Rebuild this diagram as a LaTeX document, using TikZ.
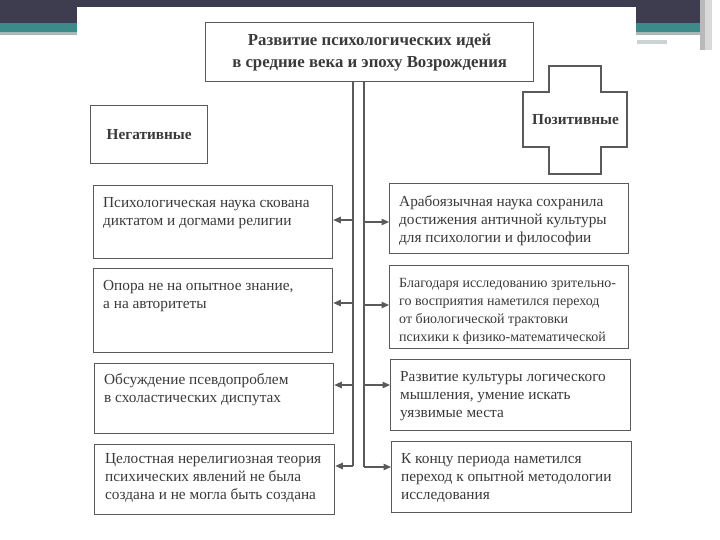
\documentclass[tikz,border=0pt]{standalone}
\usepackage{fontspec}
\setmainfont{Liberation Serif}
\usetikzlibrary{arrows.meta}
\definecolor{bandDark}{HTML}{3E3D50}
\definecolor{bandTeal}{HTML}{3D8A8B}
\definecolor{bandGray}{HTML}{A9B7B7}
\definecolor{inkLine}{HTML}{5A5A5A}
\definecolor{inkText}{HTML}{3A3A3A}
\newcommand{\bodyfnt}{\fontsize{15.3}{18}\selectfont}
\newcommand{\smallbodyfnt}{\fontsize{14}{18}\selectfont}
\newcommand{\headfnt}{\fontsize{16.8}{22}\selectfont\bfseries}
\newcommand{\tagfnt}{\fontsize{15.3}{18}\selectfont\bfseries}
\tikzset{
  boxnode/.style={draw=inkLine, line width=1.3pt, inner sep=0pt, anchor=north west},
  txtnode/.style={anchor=north west, inner sep=0pt, align=left, font=\bodyfnt, text=inkText},
  conn/.style={draw=inkLine, line width=1.2pt},
  arr/.style={conn, -{Triangle[length=7.5pt,width=6.5pt]}},
}
\begin{document}
\begin{tikzpicture}[x=1pt,y=-1pt]
\useasboundingbox (0,0) rectangle (720,540);
% slide decoration
\fill[bandDark] (0,0) rectangle (703,23);
\fill[bandTeal] (0,23) rectangle (703,32);
\fill[bandGray] (0,32) rectangle (703,35);
\fill[gray!55] (700,0) rectangle (705,50);
\fill[gray!30] (705,0) rectangle (712,50);
\fill[bandGray!60] (637,40) rectangle (667,44);
% paper
\fill[white] (77,7) rectangle (636,540);
% title
\node[boxnode, minimum width=328pt, minimum height=59pt, align=center, font=\headfnt, text=inkText] (title) at (205,22)
  {Развитие психологических идей\\в средние века и эпоху Возрождения};
% negative
\node[boxnode, minimum width=117pt, minimum height=58pt, font=\tagfnt, text=inkText] (neg) at (90,105) {Негативные};
% positive cross
\coordinate (pc) at (575.5,119.5);
\draw[conn, line width=1.3pt] (549,66) -- (601,66) -- (601,92) -- (627,92) -- (627,147) -- (601,147) -- (601,174)
  -- (549,174) -- (549,147) -- (523,147) -- (523,92) -- (549,92) -- cycle;
\node[font=\tagfnt, text=inkText] (pos) at (pc) {Позитивные};
% left boxes
\node[boxnode, minimum width=239pt, minimum height=73pt] (L1) at (93,185) {};
\node[boxnode, minimum width=239pt, minimum height=84pt] (L2) at (93,268) {};
\node[boxnode, minimum width=239pt, minimum height=70pt] (L3) at (94,363) {};
\node[boxnode, minimum width=240pt, minimum height=70pt] (L4) at (94,444) {};
% right boxes
\node[boxnode, minimum width=239pt, minimum height=70pt] (R1) at (389,183) {};
\node[boxnode, minimum width=239pt, minimum height=83pt] (R2) at (389,265) {};
\node[boxnode, minimum width=240pt, minimum height=71pt] (R3) at (390,359) {};
\node[boxnode, minimum width=240pt, minimum height=71pt] (R4) at (391,441) {};
% texts
\node[txtnode] (L1t) at ([shift={(10,10)}]L1.north west) {\strut Психологическая наука скована\\диктатом и догмами религии};
\node[txtnode] (L2t) at ([shift={(10,10)}]L2.north west) {\strut Опора не на опытное знание,\\а на авторитеты};
\node[txtnode] (L3t) at ([shift={(10,9)}]L3.north west) {\strut Обсуждение псевдопроблем\\в схоластических диспутах};
\node[txtnode] (L4t) at ([shift={(11,7)}]L4.north west) {\strut Целостная нерелигиозная теория\\психических явлений не была\\создана и не могла быть создана};
\node[txtnode] (R1t) at ([shift={(10,11)}]R1.north west) {\strut Арабоязычная наука сохранила\\достижения античной культуры\\для психологии и философии};
\node[txtnode, font=\smallbodyfnt] (R2t) at ([shift={(10,10)}]R2.north west) {\strut Благодаря исследованию зрительно-\\го восприятия наметился переход\\от биологической трактовки\\психики к физико-математической};
\node[txtnode] (R3t) at ([shift={(10,10)}]R3.north west) {\strut Развитие культуры логического\\мышления, умение искать\\уязвимые места};
\node[txtnode] (R4t) at ([shift={(10,10)}]R4.north west) {\strut К концу периода наметился\\переход к опытной методологии\\исследования};
% trunk lines
\coordinate (lt) at (353,0 |- title.south);
\coordinate (rt) at (364,0 |- title.south);
\coordinate (la1) at (353,220);
\coordinate (la2) at (353,303);
\coordinate (la3) at (353,385);
\coordinate (la4) at (353,466);
\coordinate (ra1) at (364,222);
\coordinate (ra2) at (364,305);
\coordinate (ra3) at (364,385);
\coordinate (ra4) at (364,467);
\draw[conn] (lt) -- (la4);
\draw[conn] (rt) -- (ra4);
\foreach \i in {1,2,3,4} {
  \draw[arr] (la\i) -- (la\i -| L\i.east);
  \draw[arr] (ra\i) -- (ra\i -| R\i.west);
}
\end{tikzpicture}
\end{document}
